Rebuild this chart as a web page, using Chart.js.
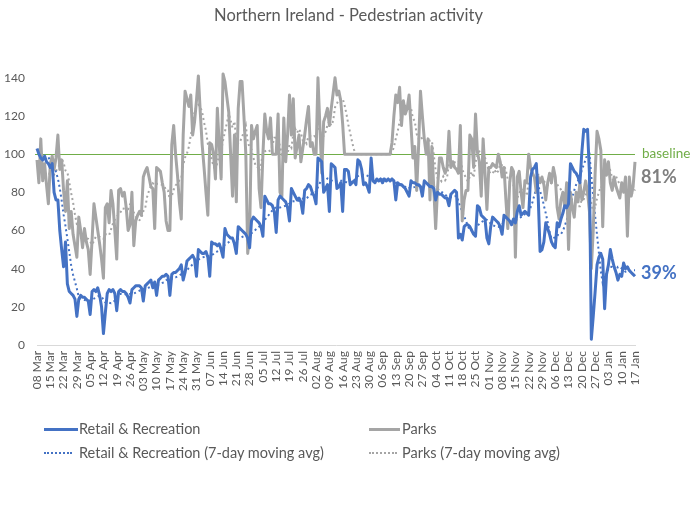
<!DOCTYPE html>
<html>
<head>
<meta charset="utf-8">
<script src="https://cdn.jsdelivr.net/npm/chart.js@4.4.1/dist/chart.umd.min.js"></script>
<style>
  html, body { margin: 0; padding: 0; background: #fff; }
  #wrap { position: relative; width: 697px; height: 521px; font-family: Lato, sans-serif; }
  #chart { position: absolute; left: 0; top: 0; }
  .leg-text { position: absolute; font-size: 14.5px; line-height: 18px; color: #595959; white-space: nowrap; }
  .leg-line { position: absolute; height: 0; }
</style>
</head>
<body>
<div id="wrap">
  <canvas id="chart" width="697" height="521"></canvas>
  <div id="legend"></div>
</div>
<script>
// daily values, index = day since 08 Mar 2020 (baseline = 100)
const retail = [
  103,100,98,97,99,96,95,  93,95,80,76,76,60,50,  41,54,32,28,27,26,24,  15,24,26,25,25,24,23,
  16,28,29,28,30,26,20,  6,17,27,29,28,29,27,  18,28,29,28,28,27,25,  22,29,30,31,31,31,30,
  23,31,32,33,34,30,33,  26,34,35,36,36,37,36,  26,37,38,38,39,40,42,  34,38,44,45,46,47,45,
  36,50,49,48,48,49,46,  36,54,53,53,52,53,50,  46,61,58,57,56,56,53,  48,62,61,60,59,58,56,
  51,65,67,66,65,64,62,  57,78,76,74,74,73,70,  59,76,78,77,76,75,72,  65,82,80,78,76,77,75,
  69,81,82,84,83,80,78,  74,98,97,96,80,82,84,  70,95,94,93,82,83,85,  70,92,92,91,84,85,86,
  84,97,96,92,84,85,83,  80,98,86,85,87,86,87,  85,87,86,87,86,87,86,  76,85,84,84,83,82,80,
  78,86,85,85,84,84,83,  78,86,85,84,83,83,82,  76,80,79,79,78,77,77,  73,79,80,81,80,56,58,
  55,62,63,63,62,60,58,  57,73,72,68,67,66,56,  53,62,67,66,65,64,62,  58,68,67,66,65,63,66,
  64,70,73,68,69,70,69,  68,88,92,93,95,78,49,  50,54,64,61,58,54,52,  51,64,62,66,69,73,72,
  74,95,93,91,90,88,85,  101,113,112,113,90,3,15,  28,42,46,48,45,19,37,  42,50,45,41,38,34,37,
  36,43,40,41,39,38,37,  36
];

const parks = [
  97,85,108,86,95,84,74,  95,99,92,98,110,92,97,  81,70,86,61,70,58,52,  46,67,60,51,61,54,50,
  37,55,74,67,60,53,45,  35,72,74,64,81,74,60,  45,81,82,78,80,72,60,  63,80,52,65,68,70,68,
  88,91,93,88,83,82,61,  93,92,91,85,80,65,60,  60,105,115,100,89,75,66,  110,133,129,125,131,110,117,
  128,141,122,105,93,80,68,  106,105,100,87,124,105,87,  142,138,130,122,100,78,110,  75,124,138,138,120,100,48,
  58,115,108,112,115,82,72,  100,121,112,108,119,100,100,  100,121,80,78,119,96,110,  131,110,129,98,104,110,96,
  103,110,118,125,104,106,100,  100,140,115,90,117,120,124,  115,124,132,140,131,133,128,  116,100,100,100,100,100,100,
  100,100,100,100,100,100,100,  100,100,100,100,100,100,100,  100,100,100,100,100,106,120,  131,127,135,115,128,121,124,
  131,115,98,104,81,104,133,  120,108,100,108,76,104,82,  61,82,98,98,93,90,93,  112,93,96,93,92,90,115,
  65,76,81,81,110,108,93,  121,101,96,78,108,90,71,  93,93,95,94,93,100,96,  88,93,76,61,85,93,91,
  46,88,91,80,72,86,85,  100,93,90,88,80,88,85,  88,84,76,85,90,85,93,  88,72,66,76,80,72,85,
  50,80,72,67,80,75,85,  76,80,86,80,70,40,60,  90,112,108,102,62,97,89,  96,85,81,88,83,80,77,
  85,80,88,57,88,78,83,  96
];

const BASELINE = 100;
const yTicks = [0, 20, 40, 60, 80, 100, 120, 140];
const MONTHS = ['Jan','Feb','Mar','Apr','May','Jun','Jul','Aug','Sep','Oct','Nov','Dec'];

// one label per day from 08 Mar, only every 7th is shown on the axis
const dayLabels = [];
for (let d = new Date(Date.UTC(2020, 2, 8)); dayLabels.length < retail.length; d.setUTCDate(d.getUTCDate() + 1)) {
  dayLabels.push(String(d.getUTCDate()).padStart(2, '0') + ' ' + MONTHS[d.getUTCMonth()]);
}

// trailing 7-day average of the daily series (what the dotted lines show)
function movingAvg(arr) {
  return arr.map((v, i) => {
    if (i < 6) return null;
    let s = 0;
    for (let k = i - 6; k <= i; k++) s += arr[k];
    return s / 7;
  });
}
const retailAvg = movingAvg(retail);
const parksAvg = movingAvg(parks);

const BLUE = '#4472C4';
const GREY = '#A5A5A5';
const TEXT = '#595959';

// baseline line under the series + end labels on the right
const annotations = {
  id: 'annotations',
  beforeDatasetsDraw(chart) {
    const { ctx, chartArea, scales: { y } } = chart;
    const yb = Math.round(y.getPixelForValue(BASELINE)) + 0.5;
    ctx.save();
    ctx.strokeStyle = '#70AD47';
    ctx.lineWidth = 1;
    ctx.beginPath();
    ctx.moveTo(chartArea.left - 2, yb);
    ctx.lineTo(chartArea.right, yb);
    ctx.stroke();
    ctx.restore();
  },
  afterDraw(chart) {
    const { ctx, chartArea, scales: { y } } = chart;
    const x0 = chartArea.right + 6;
    ctx.save();
    ctx.textAlign = 'left';
    ctx.textBaseline = 'middle';
    ctx.font = '13.5px Lato';
    ctx.fillStyle = '#70AD47';
    ctx.fillText('baseline', x0 + 1, y.getPixelForValue(BASELINE) - 1);

    ctx.font = 'bold 18px Lato';
    const pLast = parksAvg[parksAvg.length - 1];
    const rLast = retailAvg[retailAvg.length - 1];
    ctx.fillStyle = '#7F7F7F';
    ctx.fillText(Math.round(pLast) + '%', x0, y.getPixelForValue(pLast) - 12);
    ctx.fillStyle = BLUE;
    ctx.fillText(Math.round(rLast) + '%', x0, y.getPixelForValue(rLast) + 3);
    ctx.restore();
  }
};

const chart = new Chart(document.getElementById('chart'), {
  type: 'line',
  data: {
    labels: dayLabels,
    datasets: [
      { label: 'Retail & Recreation', data: retail, borderColor: BLUE, borderWidth: 3,
        pointRadius: 0, tension: 0, clip: false, borderJoinStyle: 'round' },
      { label: 'Parks', data: parks, borderColor: GREY, borderWidth: 3,
        pointRadius: 0, tension: 0, clip: false, borderJoinStyle: 'round' },
      { label: 'Retail & Recreation (7-day moving avg)', data: retailAvg, borderColor: BLUE, borderWidth: 2,
        borderDash: [2, 3], pointRadius: 0, tension: 0, clip: false },
      { label: 'Parks (7-day moving avg)', data: parksAvg, borderColor: GREY, borderWidth: 2,
        borderDash: [2, 3], pointRadius: 0, tension: 0, clip: false }
    ]
  },
  options: {
    responsive: false,
    animation: false,
    layout: { padding: { left: 0, right: 0, top: 0, bottom: 106 } },
    plugins: {
      legend: { display: false },
      tooltip: { enabled: false },
      title: {
        display: true,
        text: 'Northern Ireland - Pedestrian activity',
        color: TEXT,
        font: { family: 'Lato', size: 16.5, weight: 'normal' },
        padding: { top: 6, bottom: 52 }
      }
    },
    scales: {
      x: {
        grid: { display: false, drawTicks: false },
        border: { color: '#D9D9D9', width: 1 },
        ticks: {
          autoSkip: false, minRotation: 90, maxRotation: 90, padding: 6,
          color: TEXT, font: { family: 'Lato', size: 12 },
          callback: (v, i) => (i % 7 === 0 ? dayLabels[i] : '')
        },
        afterFit: s => { s.width = s.width; s.height = 70; }
      },
      y: {
        min: 0, max: 140,
        grid: { display: false, drawTicks: false },
        border: { display: false },
        afterBuildTicks: s => { s.ticks = yTicks.map(v => ({ value: v })); },
        ticks: { padding: 12, color: TEXT, font: { family: 'Lato', size: 12 } },
        afterFit: s => { s.width = 37; }
      },
      // empty right-hand strip that holds the end labels
      side: {
        position: 'right',
        grid: { display: false, drawTicks: false },
        border: { display: false },
        ticks: { display: false },
        afterFit: s => { s.width = 62; }
      }
    }
  },
  plugins: [annotations]
});

// legend laid out in two rows like the original
const legendItems = [
  { text: 'Retail & Recreation', line: '3px solid ' + BLUE, x: 44, w: 34, tx: 79, y: 429 },
  { text: 'Parks', line: '3px solid ' + GREY, x: 369, w: 31, tx: 402, y: 429 },
  { text: 'Retail & Recreation (7-day moving avg)', line: '2px dotted ' + BLUE, x: 44, w: 28, tx: 79, y: 453 },
  { text: 'Parks (7-day moving avg)', line: '2px dotted ' + GREY, x: 369, w: 28, tx: 402, y: 453 }
];
const legendEl = document.getElementById('legend');
legendItems.forEach(it => {
  const ln = document.createElement('div');
  ln.className = 'leg-line';
  ln.style.left = it.x + 'px';
  ln.style.top = (it.y - 1) + 'px';
  ln.style.width = it.w + 'px';
  ln.style.borderTop = it.line;
  legendEl.appendChild(ln);
  const tx = document.createElement('div');
  tx.className = 'leg-text';
  tx.style.left = it.tx + 'px';
  tx.style.top = (it.y - 9) + 'px';
  tx.textContent = it.text;
  legendEl.appendChild(tx);
});
</script>
</body>
</html>
